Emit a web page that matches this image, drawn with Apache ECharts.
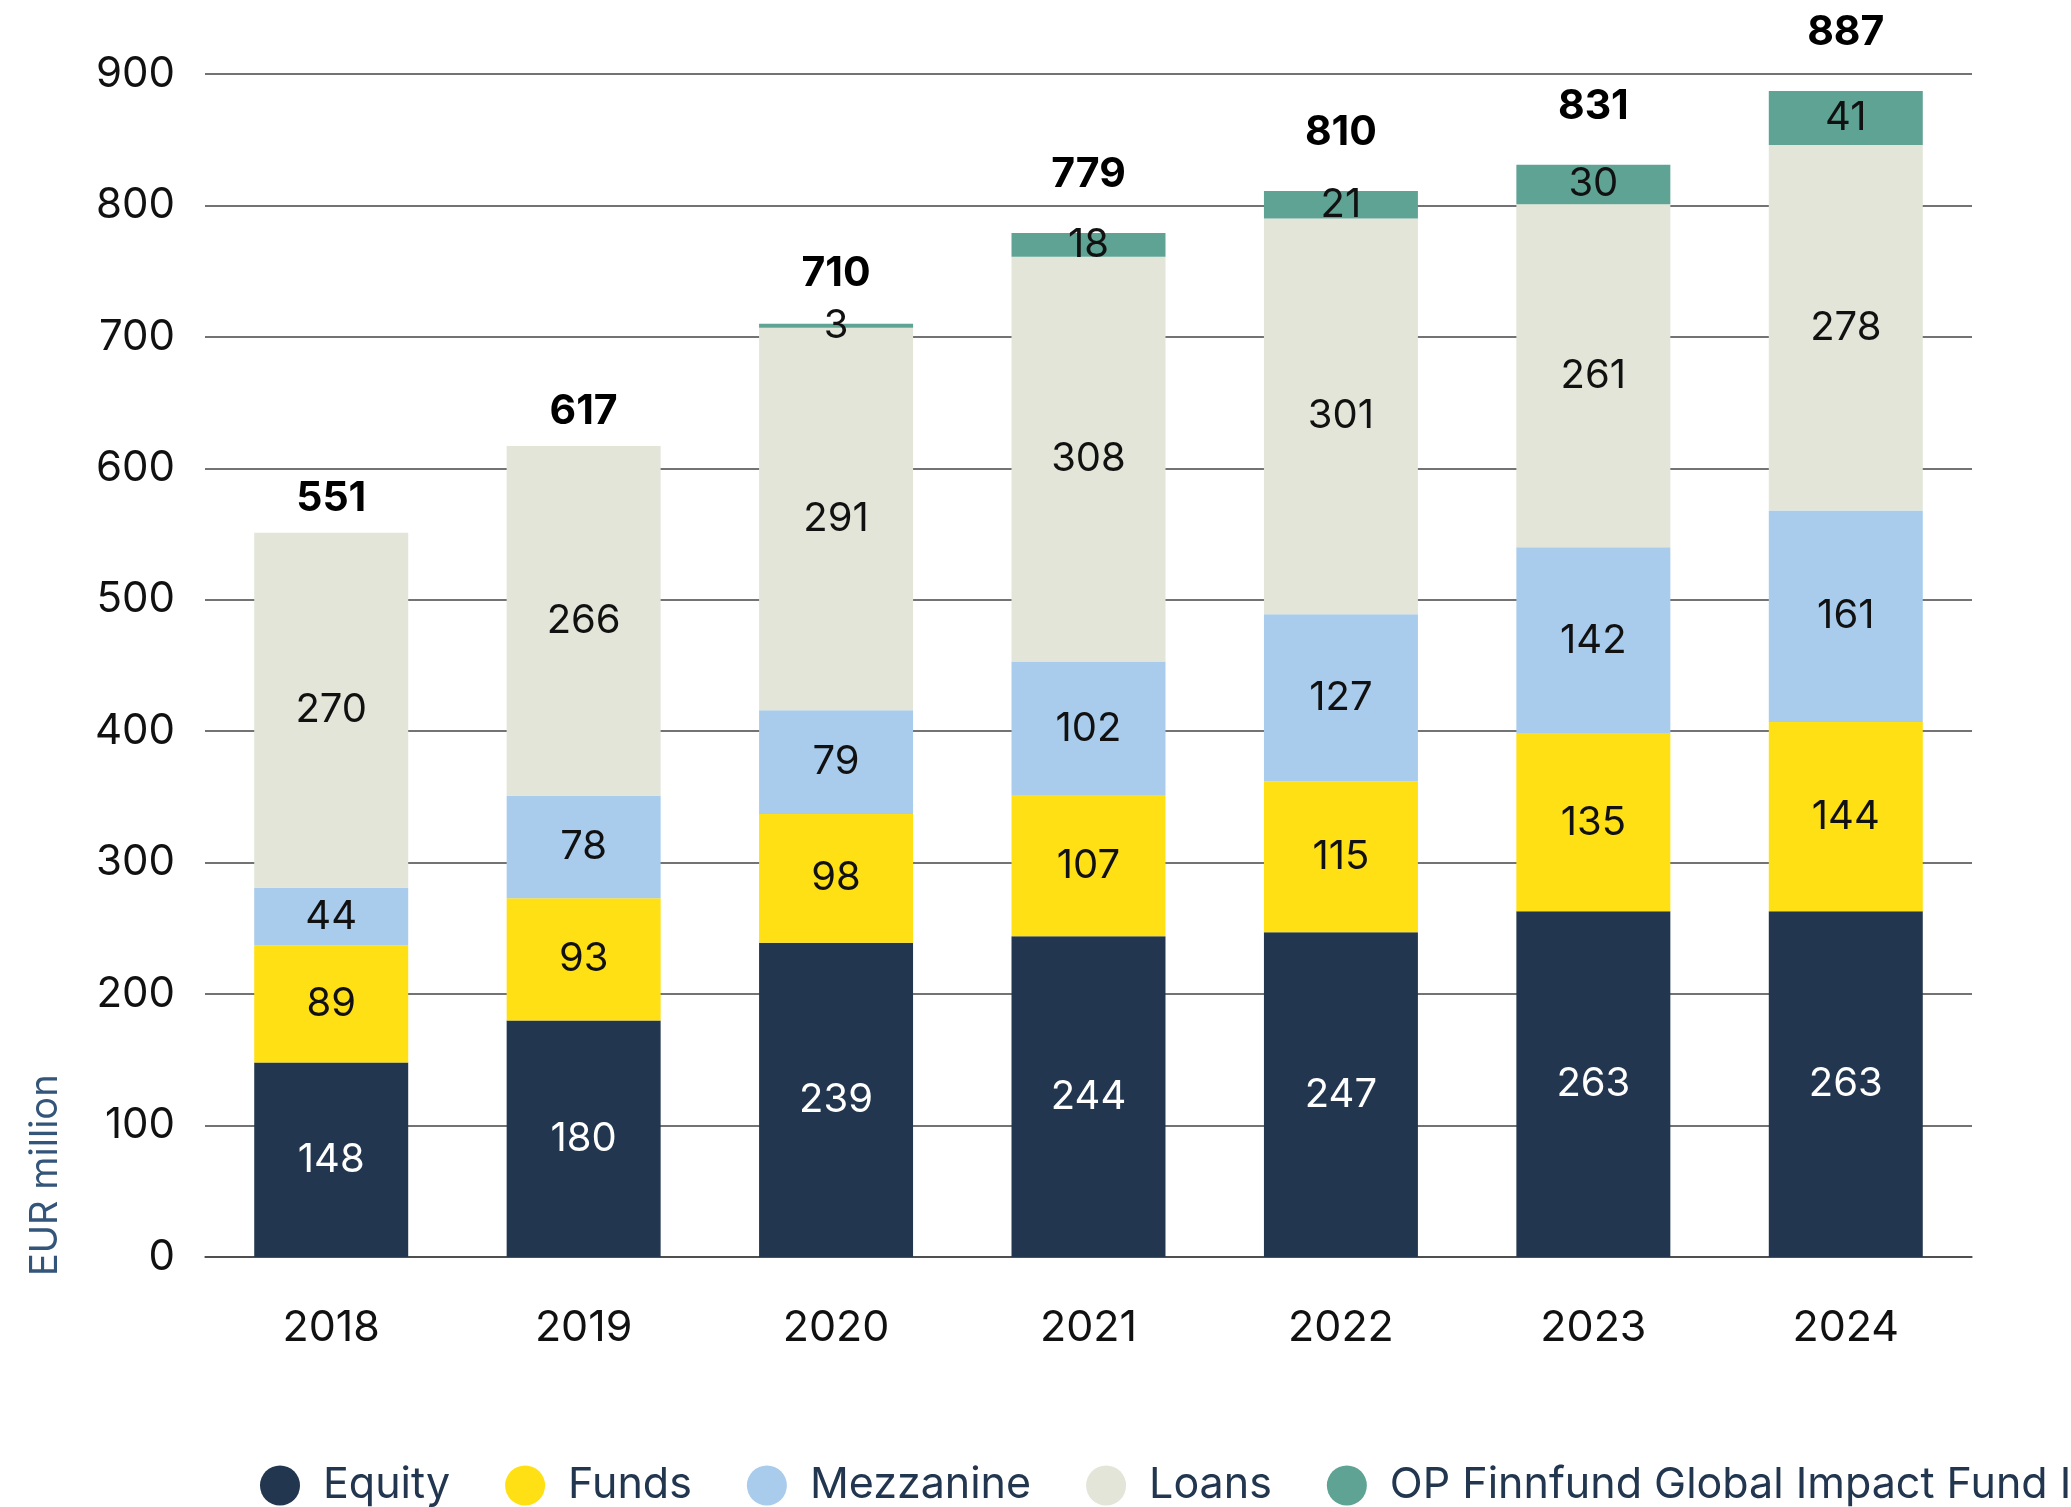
<!DOCTYPE html>
<html>
<head>
<meta charset="utf-8">
<script src="https://cdn.jsdelivr.net/npm/echarts@6/dist/echarts.min.js"></script>
<style>
  html, body { margin: 0; padding: 0; background: #fff; }
  #chart { width: 2071px; height: 1507px; }
</style>
</head>
<body>
<div id="chart"></div>
<script>
// data
const years = ["2018", "2019", "2020", "2021", "2022", "2023", "2024"];
const equity = [148, 180, 239, 244, 247, 263, 263];
const funds = [89, 93, 98, 107, 115, 135, 144];
const mezzanine = [44, 78, 79, 102, 127, 142, 161];
const loans = [270, 266, 291, 308, 301, 261, 278];
const opFund = [0, 0, 3, 18, 21, 30, 41];
const totals = [551, 617, 710, 779, 810, 831, 887];

const font = "Inter, 'Noto Sans', sans-serif";

function segment(name, data, color, textColor) {
  return {
    name: name,
    type: "bar",
    stack: "total",
    barWidth: "61%",
    data: data,
    itemStyle: { color: color },
    label: {
      show: true,
      position: "inside",
      color: textColor,
      fontSize: 40,
      fontFamily: font,
      formatter: (p) => (p.value ? String(p.value) : ""),
    },
  };
}

// total labels sit higher when the green segment carries its own label
const totalItems = totals.map((t, i) => ({
  value: 0,
  label: { distance: opFund[i] === 0 ? 14 : opFund[i] < 10 ? 30 : 38 },
}));

const chart = echarts.init(document.getElementById("chart"));
chart.setOption({
  animation: false,
  textStyle: { fontFamily: font },
  grid: { left: 205, right: 99, top: 74, bottom: 250 },
  legend: {
    data: ["Equity", "Funds", "Mezzanine", "Loans", "OP Finnfund Global Impact Fund I"],
    left: 255,
    top: 1459,
    width: 2400,
    icon: "circle",
    itemWidth: 40,
    itemHeight: 40,
    itemGap: 55,
    textStyle: {
      fontSize: 43,
      color: "#22374f",
      fontFamily: font,
      padding: [0, 0, 0, 18],
    },
  },
  graphic: [
    {
      type: "text",
      x: 46,
      y: 1276,
      rotation: Math.PI / 2,
      style: {
        text: "EUR million",
        fontSize: 38,
        fontFamily: font,
        fill: "#34557a",
        textAlign: "left",
        textVerticalAlign: "middle",
      },
    },
  ],
  xAxis: {
    type: "category",
    data: years,
    axisTick: { show: false },
    axisLine: { lineStyle: { color: "#444", width: 1.5 } },
    axisLabel: { fontSize: 43, color: "#111", margin: 50, fontFamily: font },
  },
  yAxis: {
    type: "value",
    min: 0,
    max: 900,
    interval: 100,
    axisLine: { show: false },
    axisTick: { show: false },
    axisLabel: { fontSize: 42, color: "#111", margin: 30, fontFamily: font },
    splitLine: { lineStyle: { color: "#444", width: 1.5 } },
  },
  series: [
    segment("Equity", equity, "#22374f", "#ffffff"),
    segment("Funds", funds, "#ffe014", "#111"),
    segment("Mezzanine", mezzanine, "#a9cbec", "#111"),
    segment("Loans", loans, "#e2e5d7", "#111"),
    segment("OP Finnfund Global Impact Fund I", opFund, "#5ea394", "#111"),
    {
      name: "Total",
      type: "bar",
      stack: "total",
      barWidth: "61%",
      data: totalItems,
      itemStyle: { color: "transparent" },
      label: {
        show: true,
        position: "top",
        color: "#000",
        fontSize: 41,
        fontWeight: "bold",
        fontFamily: font,
        formatter: (p) => String(totals[p.dataIndex]),
      },
    },
  ],
});
</script>
</body>
</html>
